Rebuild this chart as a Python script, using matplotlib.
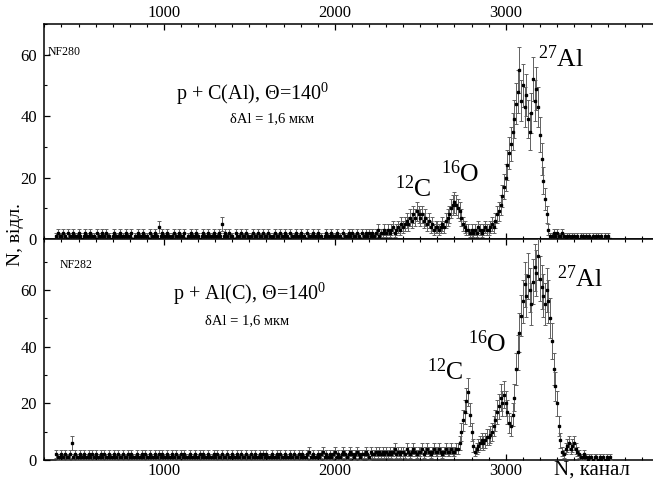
import numpy as np
import matplotlib
matplotlib.use("Agg")
import matplotlib.pyplot as plt
from matplotlib.ticker import MultipleLocator

plt.rcParams['font.family'] = ['Liberation Serif', 'DejaVu Serif']
plt.rcParams['mathtext.fontset'] = 'custom'
plt.rcParams['mathtext.rm'] = 'Liberation Serif'
plt.rcParams['mathtext.it'] = 'Liberation Serif'

# ---------------- data ----------------
channels = np.arange(370, 3611, 10)

counts_nf280 = [
    1,2,1,1,2,1,0,2,1,1,2,1,1,2,1,0,1,2,1,1,
    2,1,1,0,2,1,1,2,1,2,1,1,0,1,2,1,1,2,1,1,
    1,2,1,1,2,0,1,1,2,1,1,2,1,1,0,2,1,1,2,1,
    4,1,2,1,1,2,1,0,1,2,1,1,2,1,1,2,0,1,1,2,
    1,1,2,1,0,1,2,1,1,2,1,1,2,1,1,2,1,5,1,2,
    1,2,1,1,0,2,1,1,2,1,1,2,1,0,1,2,1,1,2,1,
    1,2,1,1,2,1,0,1,2,1,1,2,1,1,2,1,0,2,1,1,
    2,1,1,2,1,1,0,2,1,1,2,1,1,2,1,1,0,1,2,1,
    1,2,1,1,2,1,1,0,2,1,1,2,1,2,1,1,2,1,0,2,
    1,2,1,2,1,2,1,2,3,1,2,2,3,
    2,3,2,3,4,2,3,4,3,5,
    4,5,6,5,7,6,8,7,9,8,
    7,8,6,7,5,6,4,5,3,4,
    4,3,4,5,4,6,7,8,10,11,
    12,11,10,9,7,5,4,3,3,2,
    3,2,3,2,4,3,2,3,4,3,
    3,4,5,4,6,8,9,11,14,17,
    20,24,28,31,35,39,44,48,55,45,
    50,43,47,39,35,41,52,45,49,43,
    34,26,19,13,8,3,1,1,2,1,
    2,1,1,2,1,0,1,1,0,1,
    1,0,1,0,1,1,0,1,0,1,
    0,1,0,1,1,0,1,0,1,0,1,0,
]

counts_nf282 = [
    2,1,1,2,1,2,1,1,2,6,1,2,1,1,2,1,2,1,1,2,
    1,2,1,2,1,1,2,1,2,1,1,2,1,1,2,1,2,1,1,2,
    1,1,2,1,2,1,1,2,1,1,2,1,2,1,1,2,1,1,2,1,
    2,1,2,1,1,2,1,1,2,1,2,1,1,2,1,2,1,1,2,1,
    1,2,1,1,2,1,2,1,1,2,1,1,2,1,2,1,1,2,1,1,
    2,1,1,2,1,1,2,1,2,1,1,2,1,1,2,1,2,1,1,2,
    1,2,1,2,1,1,2,1,1,2,1,2,1,1,2,1,1,2,1,2,
    1,1,2,1,2,1,1,2,3,1,2,1,1,2,1,2,3,1,2,1,
    2,1,2,3,1,2,1,2,3,2,1,2,3,2,1,2,3,2,1,2,
    2,3,2,1,3,2,2,3,2,3,2,3,2,
    3,2,3,2,3,4,2,3,2,3,
    3,2,4,3,2,3,4,3,2,3,
    3,4,2,3,4,3,2,3,4,3,
    3,4,3,2,3,4,3,3,4,3,
    3,4,4,6,10,14,17,21,24,16,
    10,5,3,4,5,6,7,6,7,8,
    8,9,10,12,14,17,19,22,20,23,
    20,17,13,12,16,22,32,38,45,51,
    56,62,58,65,60,55,63,68,66,72,
    64,61,58,55,60,56,50,42,32,26,
    20,12,7,3,2,4,5,6,4,5,
    6,4,3,2,1,1,2,1,0,1,
    1,0,1,1,0,1,0,1,0,1,0,1,
]

# ---------------- figure ----------------
W, H = 653, 483
fig = plt.figure(figsize=(W / 100, H / 100), dpi=100)

left = 44 / W
ax1 = fig.add_axes([left, 1 - 239 / H, 1 - left, (239 - 24) / H])
ax2 = fig.add_axes([left, 1 - 460 / H, 1 - left, (460 - 239) / H])

xlim = (298, 3862)


def draw(ax, counts, ylim):
    y = np.array(counts, dtype=float)
    err = np.sqrt(y)
    ax.errorbar(channels, y, yerr=err, fmt='s', ms=1.7, mfc='black', mec='black',
                ecolor='0.38', elinewidth=0.7, capsize=1.4, capthick=0.7, zorder=3)
    ax.set_xlim(*xlim)
    ax.set_ylim(*ylim)
    ax.spines['right'].set_visible(False)
    for s in ('left', 'top', 'bottom'):
        ax.spines[s].set_linewidth(1.1)
    ax.xaxis.set_major_locator(MultipleLocator(1000))
    ax.xaxis.set_minor_locator(MultipleLocator(100))
    ax.yaxis.set_major_locator(MultipleLocator(20))
    ax.yaxis.set_minor_locator(MultipleLocator(10))
    ax.tick_params(which='both', direction='in', top=True, bottom=True, left=True, right=False)
    ax.tick_params(which='major', length=4.5, width=0.9, labelsize=12)
    ax.tick_params(which='minor', length=2.5, width=0.8)
    ax.tick_params(axis='y', pad=5)
    ax.tick_params(axis='x', pad=2)


draw(ax1, counts_nf280, (0, 70))
draw(ax2, counts_nf282, (0, 78))

ax1.tick_params(axis='x', labeltop=True, labelbottom=False)
ax2.tick_params(axis='x', labeltop=False, labelbottom=True)

# --- texts top panel ---
ax1.text(321, 60.8, 'NF280', fontsize=8.5, va='center', ha='left')
ax1.text(1068, 45.3, r'p + C(Al), $\Theta$=140$^{0}$', fontsize=14.5, ha='left', va='baseline')
ax1.text(1386, 37.9, 'δAl = 1,6 мкм', fontsize=10.5, ha='left', va='baseline')
ax1.text(2352, 13.7, r'$^{12}$C', fontsize=18.5, ha='left', va='baseline')
ax1.text(2621, 18.6, r'$^{16}$O', fontsize=18.5, ha='left', va='baseline')
ax1.text(3188, 56, r'$^{27}$Al', fontsize=18.5, ha='left', va='baseline')

# --- texts bottom panel ---
ax2.text(391, 68.8, 'NF282', fontsize=8.5, va='center', ha='left')
ax2.text(1053, 56.7, r'p + Al(C), $\Theta$=140$^{0}$', fontsize=14.5, ha='left', va='baseline')
ax2.text(1240, 47.8, 'δAl = 1,6 мкм', fontsize=10.5, ha='left', va='baseline')
ax2.text(2539, 28.3, r'$^{12}$C', fontsize=18.5, ha='left', va='baseline')
ax2.text(2779, 38.2, r'$^{16}$O', fontsize=18.5, ha='left', va='baseline')
ax2.text(3300, 61, r'$^{27}$Al', fontsize=18.5, ha='left', va='baseline')

fig.text(592 / W, 1 - 470 / H, 'N, канал', fontsize=15, ha='center', va='center')
fig.text(15 / W, 1 - 235 / H, 'N, відл.', fontsize=14, rotation=90, ha='center', va='center')

fig.savefig('out.png', dpi=100)
